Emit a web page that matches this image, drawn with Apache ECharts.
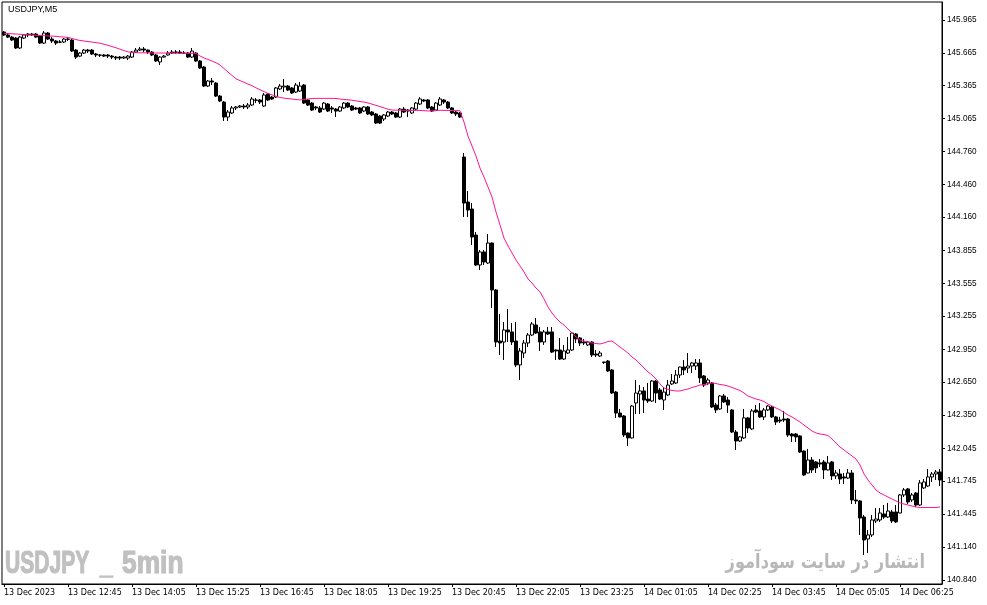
<!DOCTYPE html>
<html>
<head>
<meta charset="utf-8">
<script src="https://cdn.jsdelivr.net/npm/echarts@6/dist/echarts.min.js"></script>
<style>
html,body{margin:0;padding:0;background:#fff;}
#chart{width:987px;height:605px;}
</style>
</head>
<body>
<div id="chart"></div>
<script>
// ---- data (USDJPY, M5) ----
const symbolTitle = 'USDJPY,M5';
const watermarkLeft = ['USDJPY', '_', '5min'];
const watermarkRight = 'انتشار در سایت سودآموز';

const xTickLabels = ['13 Dec 2023','13 Dec 12:45','13 Dec 14:05','13 Dec 15:25','13 Dec 16:45','13 Dec 18:05','13 Dec 19:25','13 Dec 20:45','13 Dec 22:05','13 Dec 23:25','14 Dec 01:05','14 Dec 02:25','14 Dec 03:45','14 Dec 05:05','14 Dec 06:25'];
const yTickValues = [145.965,145.665,145.365,145.065,144.760,144.460,144.160,143.855,143.555,143.255,142.950,142.650,142.350,142.045,141.745,141.445,141.140,140.840];

const opens = [
145.855,145.828,145.809,145.800,145.709,145.800,145.828,145.837,145.837,145.819,
145.754,145.846,145.791,145.773,145.764,145.764,145.791,145.782,145.690,145.635,
145.663,145.690,145.690,145.654,145.645,145.645,145.645,145.635,145.626,145.626,
145.617,145.617,145.626,145.672,145.690,145.700,145.690,145.672,145.645,145.581,
145.626,145.645,145.663,145.672,145.672,145.663,145.663,145.626,145.663,145.590,
145.535,145.361,145.407,145.388,145.269,145.214,145.077,145.114,145.160,145.169,
145.178,145.169,145.187,145.233,145.233,145.178,145.288,145.260,145.260,145.334,
145.352,145.361,145.343,145.306,145.315,145.370,145.233,145.205,145.169,145.160,
145.150,145.196,145.160,145.150,145.132,145.160,145.205,145.178,145.160,145.160,
145.132,145.169,145.123,145.105,145.086,145.059,145.086,145.123,145.114,145.077,
145.150,145.141,145.114,145.150,145.196,145.233,145.233,145.169,145.141,145.187,
145.233,145.214,145.160,145.123,145.114,144.711,144.299,144.235,143.997,143.723,
143.842,143.741,143.924,143.494,143.027,143.018,143.128,143.110,143.027,142.808,
142.917,143.009,143.082,143.174,143.110,143.018,143.110,143.110,142.945,142.945,
142.862,142.917,142.945,143.091,143.055,143.018,142.991,143.018,142.908,142.890,
142.835,142.844,142.762,142.560,142.368,142.341,142.185,142.140,142.460,142.542,
142.570,142.496,142.478,142.661,142.579,142.487,142.533,142.634,142.643,142.716,
142.789,142.780,142.798,142.798,142.826,142.707,142.643,142.643,142.441,142.405,
142.524,142.487,142.396,142.194,142.112,142.140,142.323,142.222,142.396,142.387,
142.332,142.396,142.423,142.332,142.304,142.313,142.313,142.176,142.176,142.158,
142.020,141.819,141.938,141.920,141.911,141.920,141.847,141.920,141.792,141.810,
141.783,141.773,141.819,141.572,141.563,141.416,141.215,141.252,141.380,141.389,
141.444,141.416,141.462,141.462,141.453,141.618,141.673,141.572,141.636,141.526,
141.682,141.700,141.783,141.810,141.828];

const closes = [
145.828,145.809,145.782,145.709,145.809,145.828,145.837,145.830,145.809,145.754,
145.846,145.791,145.773,145.754,145.762,145.791,145.789,145.681,145.626,145.663,
145.690,145.681,145.654,145.645,145.643,145.635,145.635,145.626,145.617,145.617,
145.626,145.635,145.672,145.690,145.700,145.690,145.672,145.645,145.590,145.626,
145.635,145.663,145.672,145.670,145.663,145.661,145.626,145.681,145.590,145.526,
145.361,145.407,145.398,145.269,145.224,145.077,145.123,145.160,145.169,145.178,
145.169,145.187,145.242,145.231,145.214,145.279,145.233,145.242,145.343,145.361,
145.361,145.324,145.297,145.370,145.361,145.205,145.187,145.141,145.160,145.123,
145.205,145.132,145.150,145.132,145.169,145.205,145.169,145.141,145.150,145.114,
145.169,145.105,145.096,145.022,145.022,145.096,145.123,145.105,145.077,145.150,
145.123,145.132,145.160,145.205,145.242,145.224,145.160,145.132,145.205,145.242,
145.214,145.160,145.114,145.105,145.077,144.290,144.226,143.979,143.723,143.842,
143.750,143.924,143.494,143.018,143.009,143.128,143.110,143.018,142.808,142.936,
143.009,143.082,143.183,143.100,143.018,143.110,143.091,142.926,142.936,142.862,
142.936,142.945,143.100,143.046,143.009,143.009,143.018,142.899,142.899,142.917,
142.831,142.753,142.551,142.368,142.332,142.167,142.140,142.432,142.551,142.570,
142.487,142.478,142.661,142.551,142.496,142.560,142.624,142.661,142.716,142.789,
142.762,142.798,142.826,142.826,142.689,142.624,142.670,142.423,142.396,142.524,
142.469,142.441,142.194,142.112,142.149,142.323,142.231,142.387,142.377,142.332,
142.396,142.432,142.332,142.286,142.295,142.304,142.167,142.158,142.149,142.011,
141.801,141.938,141.847,141.865,141.901,141.847,141.911,141.792,141.819,141.764,
141.773,141.819,141.572,141.563,141.407,141.206,141.252,141.389,141.398,141.453,
141.416,141.471,141.380,141.371,141.618,141.664,141.554,141.618,141.526,141.728,
141.737,141.783,141.810,141.828,141.755];

const highs = [
145.864,145.846,145.819,145.809,145.819,145.837,145.846,145.846,145.846,145.828,
145.864,145.855,145.809,145.782,145.782,145.800,145.809,145.791,145.700,145.672,
145.700,145.700,145.700,145.663,145.654,145.654,145.654,145.645,145.635,145.635,
145.635,145.645,145.681,145.709,145.718,145.718,145.695,145.681,145.654,145.635,
145.645,145.681,145.690,145.690,145.690,145.681,145.672,145.709,145.672,145.599,
145.544,145.416,145.434,145.398,145.279,145.224,145.141,145.178,145.178,145.187,
145.196,145.205,145.260,145.251,145.242,145.297,145.297,145.269,145.352,145.379,
145.425,145.370,145.352,145.388,145.398,145.379,145.242,145.214,145.178,145.178,
145.214,145.205,145.178,145.160,145.178,145.214,145.214,145.187,145.169,145.169,
145.178,145.178,145.132,145.114,145.096,145.105,145.132,145.132,145.123,145.160,
145.169,145.150,145.169,145.214,145.260,145.242,145.242,145.178,145.214,145.260,
145.242,145.224,145.169,145.132,145.123,144.748,144.400,144.290,144.025,143.860,
143.860,144.006,143.930,143.503,143.274,143.201,143.320,143.192,143.201,142.963,
143.036,143.100,143.201,143.238,143.155,143.128,143.155,143.155,142.950,143.055,
142.991,143.064,143.110,143.100,143.064,143.046,143.027,143.027,142.945,142.936,
142.835,142.853,142.771,142.570,142.405,142.350,142.190,142.441,142.670,142.624,
142.606,142.643,142.670,142.670,142.597,142.606,142.670,142.725,142.762,142.792,
142.853,142.917,142.835,142.862,142.862,142.716,142.689,142.652,142.460,142.533,
142.542,142.515,142.405,142.213,142.158,142.405,142.332,142.405,142.441,142.460,
142.414,142.441,142.432,142.341,142.332,142.387,142.323,142.185,142.185,142.167,
142.025,142.039,141.965,141.929,141.947,141.938,141.975,141.929,141.847,141.856,
141.819,141.856,141.847,141.664,141.572,141.435,141.297,141.435,141.499,141.499,
141.526,141.545,141.481,141.526,141.627,141.682,141.682,141.636,141.645,141.755,
141.764,141.856,141.828,141.847,141.856];

const lows = [
145.819,145.800,145.773,145.700,145.700,145.791,145.809,145.819,145.800,145.745,
145.745,145.782,145.754,145.736,145.754,145.754,145.773,145.672,145.608,145.626,
145.654,145.663,145.645,145.626,145.626,145.626,145.617,145.608,145.599,145.599,
145.608,145.599,145.617,145.663,145.681,145.672,145.654,145.635,145.581,145.553,
145.622,145.640,145.654,145.654,145.654,145.654,145.617,145.617,145.581,145.517,
145.352,145.352,145.370,145.260,145.214,145.041,145.041,145.105,145.141,145.160,
145.150,145.150,145.178,145.205,145.196,145.169,145.224,145.233,145.251,145.324,
145.306,145.315,145.288,145.297,145.306,145.196,145.178,145.132,145.141,145.114,
145.141,145.123,145.114,145.077,145.123,145.150,145.160,145.132,145.141,145.105,
145.123,145.096,145.086,145.013,145.013,145.041,145.077,145.096,145.068,145.068,
145.114,145.077,145.105,145.141,145.187,145.214,145.150,145.123,145.132,145.178,
145.196,145.150,145.105,145.086,145.068,144.162,144.162,143.906,143.714,143.677,
143.723,143.732,143.329,142.972,142.899,142.853,143.018,142.991,142.789,142.670,
142.872,142.972,143.073,143.091,142.936,142.991,143.082,142.917,142.853,142.853,
142.853,142.908,142.936,143.009,142.981,142.991,142.981,142.881,142.881,142.881,
142.817,142.744,142.542,142.323,142.327,142.149,142.066,142.135,142.359,142.359,
142.368,142.460,142.469,142.460,142.487,142.396,142.524,142.624,142.634,142.689,
142.716,142.734,142.734,142.762,142.643,142.606,142.624,142.414,142.368,142.396,
142.460,142.368,142.185,142.030,142.103,142.130,142.185,142.213,142.368,142.323,
142.304,142.387,142.323,142.258,142.277,142.286,142.149,142.103,142.103,142.002,
141.792,141.815,141.819,141.819,141.874,141.764,141.842,141.755,141.764,141.718,
141.718,141.764,141.535,141.535,141.252,141.069,141.087,141.233,141.361,141.371,
141.398,141.407,141.361,141.361,141.449,141.599,141.535,141.554,141.508,141.517,
141.673,141.691,141.737,141.755,141.700];

const maValues = [
145.843,145.841,145.839,145.837,145.834,145.832,145.830,145.828,145.826,145.824,
145.822,145.819,145.818,145.815,145.812,145.809,145.806,145.796,145.786,145.778,
145.773,145.768,145.763,145.758,145.753,145.743,145.733,145.722,145.711,145.698,
145.685,145.674,145.668,145.666,145.665,145.665,145.664,145.664,145.663,145.663,
145.663,145.662,145.662,145.661,145.661,145.661,145.660,145.660,145.660,145.636,
145.618,145.604,145.590,145.574,145.553,145.521,145.488,145.458,145.427,145.410,
145.395,145.379,145.364,145.344,145.327,145.310,145.293,145.280,145.268,145.256,
145.250,145.246,145.242,145.237,145.234,145.237,145.242,145.247,145.248,145.248,
145.248,145.248,145.248,145.247,145.242,145.238,145.235,145.231,145.225,145.219,
145.214,145.206,145.195,145.184,145.173,145.161,145.149,145.141,145.140,145.140,
145.139,145.139,145.138,145.138,145.137,145.135,145.133,145.133,145.136,145.139,
145.138,145.137,145.137,145.136,145.135,145.031,144.903,144.812,144.720,144.610,
144.528,144.437,144.345,144.208,144.089,143.970,143.897,143.833,143.768,143.714,
143.659,143.595,143.558,143.512,143.476,143.412,143.338,143.283,143.238,143.201,
143.174,143.137,143.100,143.064,143.036,143.027,143.018,143.009,143.004,143.000,
143.009,143.023,143.027,143.000,142.972,142.945,142.917,142.881,142.853,142.817,
142.780,142.744,142.716,142.679,142.634,142.597,142.583,142.574,142.570,142.570,
142.579,142.588,142.602,142.611,142.624,142.629,142.634,142.643,142.638,142.629,
142.624,142.615,142.602,142.588,142.574,142.551,142.524,142.510,142.496,142.487,
142.473,142.450,142.432,142.414,142.396,142.373,142.350,142.332,142.309,142.286,
142.258,142.231,142.203,142.185,142.176,142.171,142.162,142.130,142.093,142.057,
142.030,142.002,141.975,141.947,141.892,141.810,141.755,141.709,141.664,141.636,
141.618,141.599,141.581,141.563,141.545,141.535,141.526,141.517,141.508,141.503,
141.503,141.503,141.503,141.503,141.508];

// bar times: 5-minute bars from 13 Dec 11:25, with the daily rollover gap (23:55-00:10)
const categories = [];
for (let i = 0; i < opens.length; i++) {
  let m = 11 * 60 + 25 + 5 * i + (i >= 150 ? 20 : 0);
  const day = 13 + Math.floor(m / 1440);
  m = m % 1440;
  const hh = String(Math.floor(m / 60)).padStart(2, '0');
  const mm = String(m % 60).padStart(2, '0');
  categories.push(day + ' Dec ' + hh + ':' + mm);
}
const candles = opens.map((o, i) => [o, closes[i], lows[i], highs[i]]);

const wmFont = 'bold 31px "Liberation Sans"';
const wmStyle = (t) => ({text: t, font: wmFont, fill: '#c0c0c0', stroke: '#c0c0c0', lineWidth: 1.2, textVerticalAlign: 'middle'});

const chart = echarts.init(document.getElementById('chart'), null, {renderer: 'canvas'});
const isTick = (i) => i % 16 === 0;
chart.setOption({
  animation: false,
  backgroundColor: '#fff',
  grid: {left: 2, right: 45, top: 2, bottom: 21, show: true, borderColor: '#000', borderWidth: 1, backgroundColor: 'transparent'},
  xAxis: {
    type: 'category',
    data: categories,
    boundaryGap: true,
    axisLine: {show: true, lineStyle: {color: '#000', width: 1}},
    axisTick: {show: true, alignWithLabel: true, interval: (i) => isTick(i), length: 3, lineStyle: {color: '#000'}},
    axisLabel: {
      show: true,
      interval: (i) => isTick(i),
      formatter: (v, i) => xTickLabels[Math.round(i / 16)] || '',
      align: 'left',
      margin: 5,
      color: '#000',
      fontSize: 8,
      fontFamily: 'DejaVu Sans'
    },
    splitLine: {show: false}
  },
  yAxis: {
    type: 'value',
    position: 'right',
    min: 140.803,
    max: 146.130,
    scale: true,
    axisLine: {show: true, lineStyle: {color: '#000', width: 1}},
    axisTick: {show: true, inside: false, length: 3, customValues: yTickValues, lineStyle: {color: '#000'}},
    axisLabel: {
      show: true,
      customValues: yTickValues,
      formatter: (v) => v.toFixed(3),
      margin: 5,
      color: '#000',
      fontSize: 8.2,
      fontFamily: 'Liberation Sans'
    },
    splitLine: {show: false}
  },
  graphic: [
    {type: 'text', x: 8, y: 5, z: 10, style: {text: symbolTitle, font: '9px "Liberation Sans"', fill: '#000', textVerticalAlign: 'top'}},
    {type: 'text', x: 5, y: 564, scaleX: 0.68, z: 0, style: wmStyle(watermarkLeft[0])},
    {type: 'text', x: 100, y: 564, scaleX: 0.74, z: 0, style: wmStyle(watermarkLeft[1])},
    {type: 'text', x: 122, y: 564, scaleX: 0.85, z: 0, style: wmStyle(watermarkLeft[2])},
    {type: 'text', x: 925, y: 563, scaleX: 0.81, originX: 0, z: 0, style: {text: watermarkRight, font: 'bold 20px "DejaVu Sans"', fill: '#b8b8b8', textAlign: 'right', textVerticalAlign: 'middle'}}
  ],
  series: [
    {
      type: 'candlestick',
      data: candles,
      barWidth: 3,
      z: 3,
      itemStyle: {color: '#ffffff', color0: '#000000', borderColor: '#000000', borderColor0: '#000000', borderWidth: 1}
    },
    {
      type: 'line',
      data: maValues,
      symbol: 'none',
      z: 4,
      lineStyle: {color: '#ff1493', width: 1},
      emphasis: {disabled: true}
    }
  ]
});
</script>
</body>
</html>
